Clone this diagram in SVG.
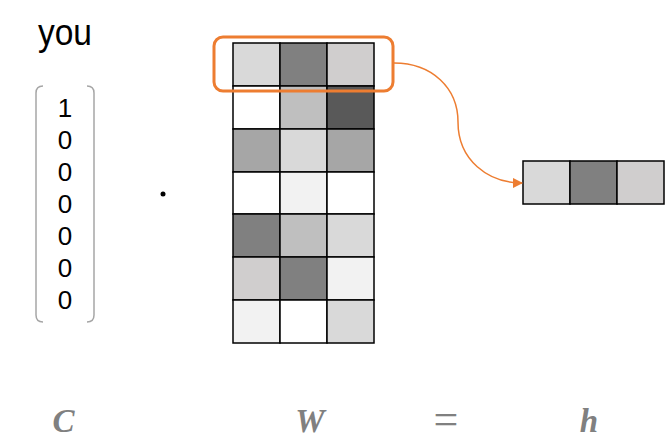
<svg xmlns="http://www.w3.org/2000/svg" width="666" height="447" viewBox="0 0 666 447">
<defs>
<style>
.cell{stroke:#000;stroke-width:1.5}
.lbl{font-family:"Liberation Serif",serif;font-weight:bold;font-style:italic;font-size:33px;fill:#808080;text-anchor:middle}
.dig{font-family:"Liberation Sans",sans-serif;font-size:26px;fill:#000;text-anchor:middle}
</style>
<marker id="arr" viewBox="0 0 10 10" refX="9" refY="5" markerWidth="7" markerHeight="7" orient="auto" markerUnits="strokeWidth">
<path d="M0,0 L10,5 L0,10 z" fill="#ed7d31"/>
</marker>
</defs>
<rect width="666" height="447" fill="#fff"/>
<g id="word">
<text x="38" y="45" font-family="Liberation Sans, sans-serif" font-size="36" textLength="54" lengthAdjust="spacingAndGlyphs">you</text>
</g>
<g id="onehot">
<path d="M43,86 Q36,86 36,93 L36,315 Q36,322 43,322" fill="none" stroke="#a6a6a6" stroke-width="1.5"/>
<path d="M87,86 Q94,86 94,93 L94,315 Q94,322 87,322" fill="none" stroke="#a6a6a6" stroke-width="1.5"/>
<text class="dig" x="65" y="117">1</text>
<text class="dig" x="65" y="149">0</text>
<text class="dig" x="65" y="181">0</text>
<text class="dig" x="65" y="213">0</text>
<text class="dig" x="65" y="245">0</text>
<text class="dig" x="65" y="277">0</text>
<text class="dig" x="65" y="309">0</text>
</g>
<g id="dot">
<circle cx="163" cy="194" r="2.5" fill="#000"/>
</g>
<g id="W">
<rect class="cell" x="233" y="43" width="47" height="43" fill="#d9d9d9"/>
<rect class="cell" x="280" y="43" width="47" height="43" fill="#808080"/>
<rect class="cell" x="327" y="43" width="47" height="43" fill="#d0cece"/>
<rect class="cell" x="233" y="86" width="47" height="43" fill="#ffffff"/>
<rect class="cell" x="280" y="86" width="47" height="43" fill="#bfbfbf"/>
<rect class="cell" x="327" y="86" width="47" height="43" fill="#595959"/>
<rect class="cell" x="233" y="129" width="47" height="43" fill="#a6a6a6"/>
<rect class="cell" x="280" y="129" width="47" height="43" fill="#d9d9d9"/>
<rect class="cell" x="327" y="129" width="47" height="43" fill="#a6a6a6"/>
<rect class="cell" x="233" y="172" width="47" height="42" fill="#ffffff"/>
<rect class="cell" x="280" y="172" width="47" height="42" fill="#f2f2f2"/>
<rect class="cell" x="327" y="172" width="47" height="42" fill="#ffffff"/>
<rect class="cell" x="233" y="214" width="47" height="43" fill="#808080"/>
<rect class="cell" x="280" y="214" width="47" height="43" fill="#bfbfbf"/>
<rect class="cell" x="327" y="214" width="47" height="43" fill="#d9d9d9"/>
<rect class="cell" x="233" y="257" width="47" height="43" fill="#d0cece"/>
<rect class="cell" x="280" y="257" width="47" height="43" fill="#808080"/>
<rect class="cell" x="327" y="257" width="47" height="43" fill="#f2f2f2"/>
<rect class="cell" x="233" y="300" width="47" height="43" fill="#f2f2f2"/>
<rect class="cell" x="280" y="300" width="47" height="43" fill="#ffffff"/>
<rect class="cell" x="327" y="300" width="47" height="43" fill="#d9d9d9"/>
</g>
<g id="highlight">
<rect x="214" y="37" width="179" height="54" rx="9" fill="none" stroke="#ed7d31" stroke-width="3"/>
</g>
<g id="h">
<rect class="cell" x="523" y="161" width="47" height="43" fill="#d9d9d9"/>
<rect class="cell" x="570" y="161" width="47" height="43" fill="#808080"/>
<rect class="cell" x="617" y="161" width="47" height="43" fill="#d0cece"/>
</g>
<g id="connectors">
<path d="M394,63 C432,63 458,88 458,122 C458,160 488,183 522,183" fill="none" stroke="#ed7d31" stroke-width="1.5" marker-end="url(#arr)"/>
</g>
<g id="labels">
<text class="lbl" x="63.5" y="432">C</text>
<text class="lbl" x="310" y="432">W</text>
<text x="446" y="434" font-family="Liberation Serif, serif" font-size="44" fill="#808080" text-anchor="middle">=</text>
<text class="lbl" x="589" y="432">h</text>
</g>
</svg>
